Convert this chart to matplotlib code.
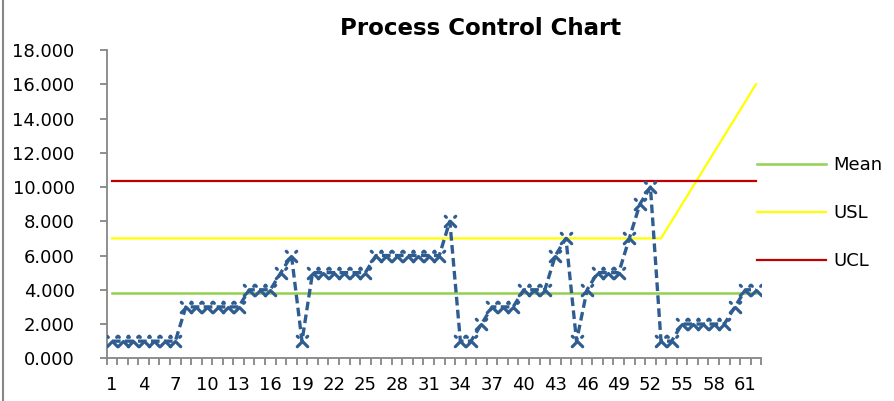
import matplotlib.pyplot as plt
from matplotlib.path import Path
from matplotlib.markers import MarkerStyle
from matplotlib.lines import Line2D

# data
samples = list(range(1, 63))
values = [1, 1, 1, 1, 1, 1, 1, 3, 3, 3, 3, 3, 3, 4, 4, 4, 5, 6, 1, 5,
          5, 5, 5, 5, 5, 6, 6, 6, 6, 6, 6, 6, 8, 1, 1, 2, 3, 3, 3, 4,
          4, 4, 6, 7, 1, 4, 5, 5, 5, 7, 9, 10, 1, 1, 2, 2, 2, 2, 2, 3,
          4, 4]
usl = [7, 7, 7, 7, 7, 7, 7, 7, 7, 7, 7, 7, 7, 7, 7, 7, 7, 7, 7, 7,
       7, 7, 7, 7, 7, 7, 7, 7, 7, 7, 7, 7, 7, 7, 7, 7, 7, 7, 7, 7,
       7, 7, 7, 7, 7, 7, 7, 7, 7, 7, 7, 7, 7, 8, 9, 10, 11, 12, 13, 14,
       15, 16]
mean_value = 3.81
ucl_value = 10.37
tick_labels = [str(i) for i in range(1, 63, 3)]

# X-like marker: solid lower legs, dotted upper tips
verts = [(-1, -1), (0, 0), (1, -1), (-1, 1), (-0.8, 0.8), (1, 1), (0.8, 0.8)]
codes = [Path.MOVETO, Path.LINETO, Path.LINETO, Path.MOVETO, Path.LINETO,
         Path.MOVETO, Path.LINETO]
xmark = MarkerStyle(Path(verts, codes), capstyle='round')

fig = plt.figure(figsize=(8.95, 4.01), dpi=100)
ax = fig.add_axes([0.1192, 0.1065, 0.7314, 0.7688])

ax.plot(samples, [mean_value] * len(samples), color='#92d050', lw=1.8, label='Mean', zorder=2)
ax.plot(samples, usl, color='#ffff00', lw=1.6, label='USL', zorder=2)
ax.plot(samples, [ucl_value] * len(samples), color='#c00000', lw=1.6, label='UCL', zorder=2)
ax.plot(samples, values, color='#2f5d91', lw=2.4, linestyle=(0, (2.6, 1.3)),
        marker=xmark, markersize=7.5, markeredgewidth=2.3, markerfacecolor='none',
        markeredgecolor='#2f5d91', zorder=3)

ax.set_xlim(0.5, 62.5)
ax.set_ylim(0, 18)
ax.set_yticks(range(0, 19, 2))
ax.set_yticklabels(['%.3f' % v for v in range(0, 19, 2)])
ax.set_xticks(range(1, 63, 3))
ax.set_xticklabels(tick_labels)
ax.set_xticks([i + 0.5 for i in range(0, 63)], minor=True)

gray = '#868686'
for s in ['top', 'right']:
    ax.spines[s].set_visible(False)
for s in ['left', 'bottom']:
    ax.spines[s].set_color(gray)
    ax.spines[s].set_linewidth(1.3)
ax.tick_params(axis='y', length=5, width=1.3, color=gray, labelsize=13, pad=18)
ax.tick_params(axis='x', which='major', length=0, labelsize=13, pad=13)
ax.tick_params(axis='x', which='minor', length=5, width=1.3, color=gray)

fig.text(0.537, 0.93, 'Process Control Chart', ha='center', va='center',
         fontsize=16.5, fontweight='bold')

ax.legend(loc='upper left', bbox_to_anchor=(0.846, 0.61), bbox_transform=fig.transFigure,
          frameon=False, fontsize=13, handlelength=3.8, handletextpad=0.4,
          labelspacing=1.65, borderpad=0, borderaxespad=0)

fig.add_artist(Line2D([0.003, 0.003], [0, 1], transform=fig.transFigure, color=gray, lw=1.5))

fig.savefig('out.png', dpi=100)
